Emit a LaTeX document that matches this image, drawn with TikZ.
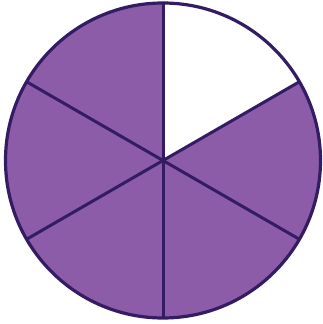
\documentclass[tikz,border=0pt]{standalone}
\definecolor{pie}{RGB}{140,92,168}
\definecolor{edge}{RGB}{52,28,100}
\tikzset{divider/.style={draw=edge,line width=3pt}}
\begin{document}
\begin{tikzpicture}[x=1pt,y=-1pt]
\useasboundingbox (0,0) rectangle (323,324);
\coordinate (c) at (163,160.5);
\fill[pie] (c) circle[radius=157.5];
\fill[white] (c) -- ++(-90:157.5) arc[start angle=-90,end angle=-30,radius=157.5] -- cycle;
\foreach \a in {-90,-30,30,90,150,210}{
  \draw[divider] (c) -- ++(\a:157.5);
}
\draw[divider,line width=3.2pt] (c) circle[radius=157.5];
\end{tikzpicture}
\end{document}
